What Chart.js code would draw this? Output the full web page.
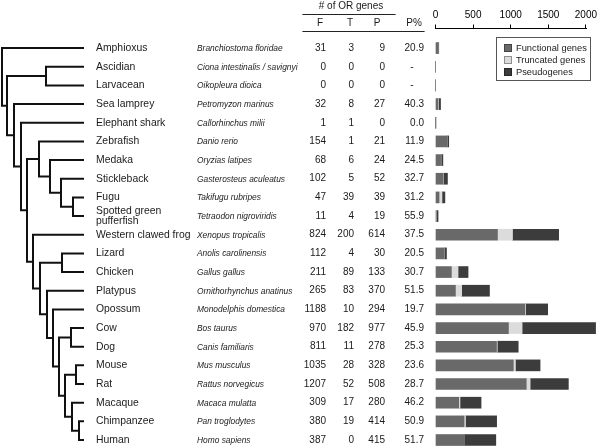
<!DOCTYPE html>
<html><head><meta charset="utf-8">
<script src="https://cdn.jsdelivr.net/npm/chart.js@4.4.1/dist/chart.umd.min.js"></script>
<style>html,body{margin:0;padding:0;background:#fff;} #wrap{width:600px;height:446px;position:relative;}</style>
</head><body><div id="wrap"><canvas id="c" width="600" height="446"></canvas></div>
<script>
// ---------- data ----------
const commonNames = ['Amphioxus','Ascidian','Larvacean','Sea lamprey','Elephant shark','Zebrafish','Medaka','Stickleback','Fugu',['Spotted green','pufferfish'],'Western clawed frog','Lizard','Chicken','Platypus','Opossum','Cow','Dog','Mouse','Rat','Macaque','Chimpanzee','Human'];
const speciesNames = ['Branchiostoma floridae','Ciona intestinalis / savignyi','Oikopleura dioica','Petromyzon marinus','Callorhinchus milii','Danio rerio','Oryzias latipes','Gasterosteus aculeatus','Takifugu rubripes','Tetraodon nigroviridis','Xenopus tropicalis','Anolis carolinensis','Gallus gallus','Ornithorhynchus anatinus','Monodelphis domestica','Bos taurus','Canis familiaris','Mus musculus','Rattus norvegicus','Macaca mulatta','Pan troglodytes','Homo sapiens'];
const functionalGenes = [31,0,0,32,1,154,68,102,47,11,824,112,211,265,1188,970,811,1035,1207,309,380,387];
const truncatedGenes  = [3,0,0,8,1,1,6,5,39,4,200,4,89,83,10,182,11,28,52,17,19,0];
const pseudogenes     = [9,0,0,27,0,21,24,52,39,19,614,30,133,370,294,977,278,328,508,280,414,415];
const pseudoPercent   = ['20.9','-','-','40.3','0.0','11.9','24.5','32.7','31.2','55.9','37.5','20.5','30.7','51.5','19.7','45.9','25.3','23.6','28.7','46.2','50.9','51.7'];
const axisTicks = [0,500,1000,1500,2000];
const seriesLabels = ['Functional genes','Truncated genes','Pseudogenes'];
const tableHeader = ['F','T','P','P%'];
const tableTitle = '# of OR genes';

// phylogeny (leaf = row index, d = branch depth)
const hominini   = {d:79, c:[20,21]};
const primates   = {d:72, c:[19, hominini]};
const rodents    = {d:76, c:[17,18]};
const euarchontoglires = {d:65, c:[rodents, primates]};
const laurasiatheria   = {d:71, c:[15,16]};
const eutheria   = {d:59, c:[laurasiatheria, euarchontoglires]};
const theria     = {d:53, c:[14, eutheria]};
const mammals    = {d:47, c:[13, theria]};
const sauropsids = {d:62, c:[11,12]};
const amniotes   = {d:40, c:[sauropsids, mammals]};
const tetrapods  = {d:33, c:[10, amniotes]};
const pufferfish = {d:73, c:[8,9]};
const stickleGroup = {d:61, c:[7, pufferfish]};
const medakaGroup  = {d:50, c:[6, stickleGroup]};
const teleosts   = {d:39, c:[5, medakaGroup]};
const bonyFish   = {d:27, c:[teleosts, tetrapods]};
const gnathostomes = {d:21, c:[4, bonyFish]};
const vertebrates  = {d:14, c:[3, gnathostomes]};
const urochordates = {d:46, c:[1,2]};
const olfactores   = {d:7, c:[urochordates, vertebrates]};
const chordates    = {d:2, c:[0, olfactores]};
const tipDepth = 83;

// ---------- drawing ----------
const TXT = '#1a1a1a';
const FAM = '"Liberation Sans", Arial, Helvetica, sans-serif';
const colors = ['#696969', '#dcdcdc', '#3c3c3c'];

const overlay = {
  id: 'overlay',
  afterDraw(chart) {
    const ctx = chart.ctx, ys = chart.scales.y, xs = chart.scales.x, ca = chart.chartArea;
    const rowY = i => ys.getPixelForValue(i);
    ctx.save();
    // axis line spanning tick range
    ctx.strokeStyle = '#000'; ctx.lineWidth = 1;
    ctx.beginPath();
    ctx.moveTo(Math.round(xs.getPixelForValue(axisTicks[0])), Math.round(ca.top) - 0.5);
    ctx.lineTo(Math.round(xs.getPixelForValue(axisTicks[axisTicks.length-1])) + 1, Math.round(ca.top) - 0.5);
    ctx.stroke();

    // tree
    ctx.strokeStyle = '#111'; ctx.lineWidth = 2; ctx.lineCap = 'square';
    ctx.beginPath();
    function node(n) {
      if (typeof n === 'number') return {x: tipDepth, y: rowY(n)};
      const pts = n.c.map(node);
      const x = n.d;
      ctx.moveTo(x, pts[0].y); ctx.lineTo(x, pts[pts.length-1].y);
      pts.forEach(p => { ctx.moveTo(x, p.y); ctx.lineTo(p.x, p.y); });
      return {x, y: (pts[0].y + pts[pts.length-1].y) / 2};
    }
    node(chordates);
    ctx.stroke();

    // names & table
    ctx.fillStyle = TXT; ctx.textBaseline = 'middle';
    for (let i = 0; i < commonNames.length; i++) {
      const y = rowY(i);
      ctx.textAlign = 'left';
      ctx.font = '10.4px ' + FAM;
      const nm = commonNames[i];
      if (Array.isArray(nm)) { ctx.fillText(nm[0], 96, y - 5); ctx.fillText(nm[1], 96, y + 5.5); }
      else ctx.fillText(nm, 96, y);
      ctx.font = 'italic 8.4px ' + FAM;
      ctx.fillText(speciesNames[i], 197, y + 0.5);
      ctx.font = '10px ' + FAM;
      ctx.textAlign = 'right';
      ctx.fillText(String(functionalGenes[i]), 326, y);
      ctx.fillText(String(truncatedGenes[i]), 354, y);
      ctx.fillText(String(pseudogenes[i]), 385, y);
      if (pseudoPercent[i] === '-') { ctx.textAlign = 'center'; ctx.fillText('-', 412, y); }
      else ctx.fillText(pseudoPercent[i], 424, y);
    }
    // header
    ctx.textAlign = 'center'; ctx.font = '10px ' + FAM;
    ctx.fillText(tableTitle, 351, 6);
    const hx = [320, 350, 377, 414];
    tableHeader.forEach((h, k) => ctx.fillText(h, hx[k], 23));
    ctx.strokeStyle = '#222'; ctx.lineWidth = 1.2;
    ctx.beginPath();
    ctx.moveTo(303, 14.5); ctx.lineTo(395, 14.5);
    ctx.moveTo(303, 31.5); ctx.lineTo(424, 31.5);
    ctx.stroke();

    // legend
    ctx.strokeStyle = '#555'; ctx.lineWidth = 1;
    ctx.strokeRect(496.5, 37.5, 94, 43);
    ctx.font = '9.3px ' + FAM; ctx.textAlign = 'left';
    chart.data.datasets.forEach((ds, k) => {
      const ly = 48 + k * 12;
      ctx.fillStyle = ds.backgroundColor;
      ctx.fillRect(504, ly - 4, 8, 8);
      ctx.strokeStyle = 'rgba(0,0,0,0.35)';
      ctx.strokeRect(504.5, ly - 3.5, 7, 7);
      ctx.fillStyle = TXT;
      ctx.fillText(ds.label, 516, ly);
    });
    ctx.restore();
  }
};

const series = [functionalGenes, truncatedGenes, pseudogenes];
new Chart(document.getElementById('c'), {
  type: 'bar',
  data: {
    datasets: series.map((arr, k) => ({
      label: seriesLabels[k],
      data: arr.map((v, i) => ({x: v, y: i})),
      backgroundColor: colors[k],
      borderWidth: 0,
      barThickness: 11,
      clip: false
    }))
  },
  options: {
    indexAxis: 'y',
    responsive: false,
    animation: false,
    layout: {padding: {left: 435.5, top: 6.5, right: 0, bottom: 0}},
    plugins: {legend: {display: false}, tooltip: {enabled: false}},
    scales: {
      x: {
        type: 'linear', position: 'top', stacked: true, min: 0, max: 2165,
        afterBuildTicks: s => { s.ticks = axisTicks.map(v => ({value: v})); },
        grid: {drawOnChartArea: false, drawTicks: true, tickLength: 4, color: '#000', lineWidth: 1},
        border: {display: false},
        ticks: {font: {size: 10, family: FAM}, color: '#000', padding: 3, maxRotation: 0, autoSkip: false,
                callback: v => String(v)}
      },
      y: {type: 'linear', reverse: true, offset: false, grid: {offset: false}, min: -1.05, max: 21.32, stacked: true, display: false}
    }
  },
  plugins: [overlay]
});
</script>
</body></html>
